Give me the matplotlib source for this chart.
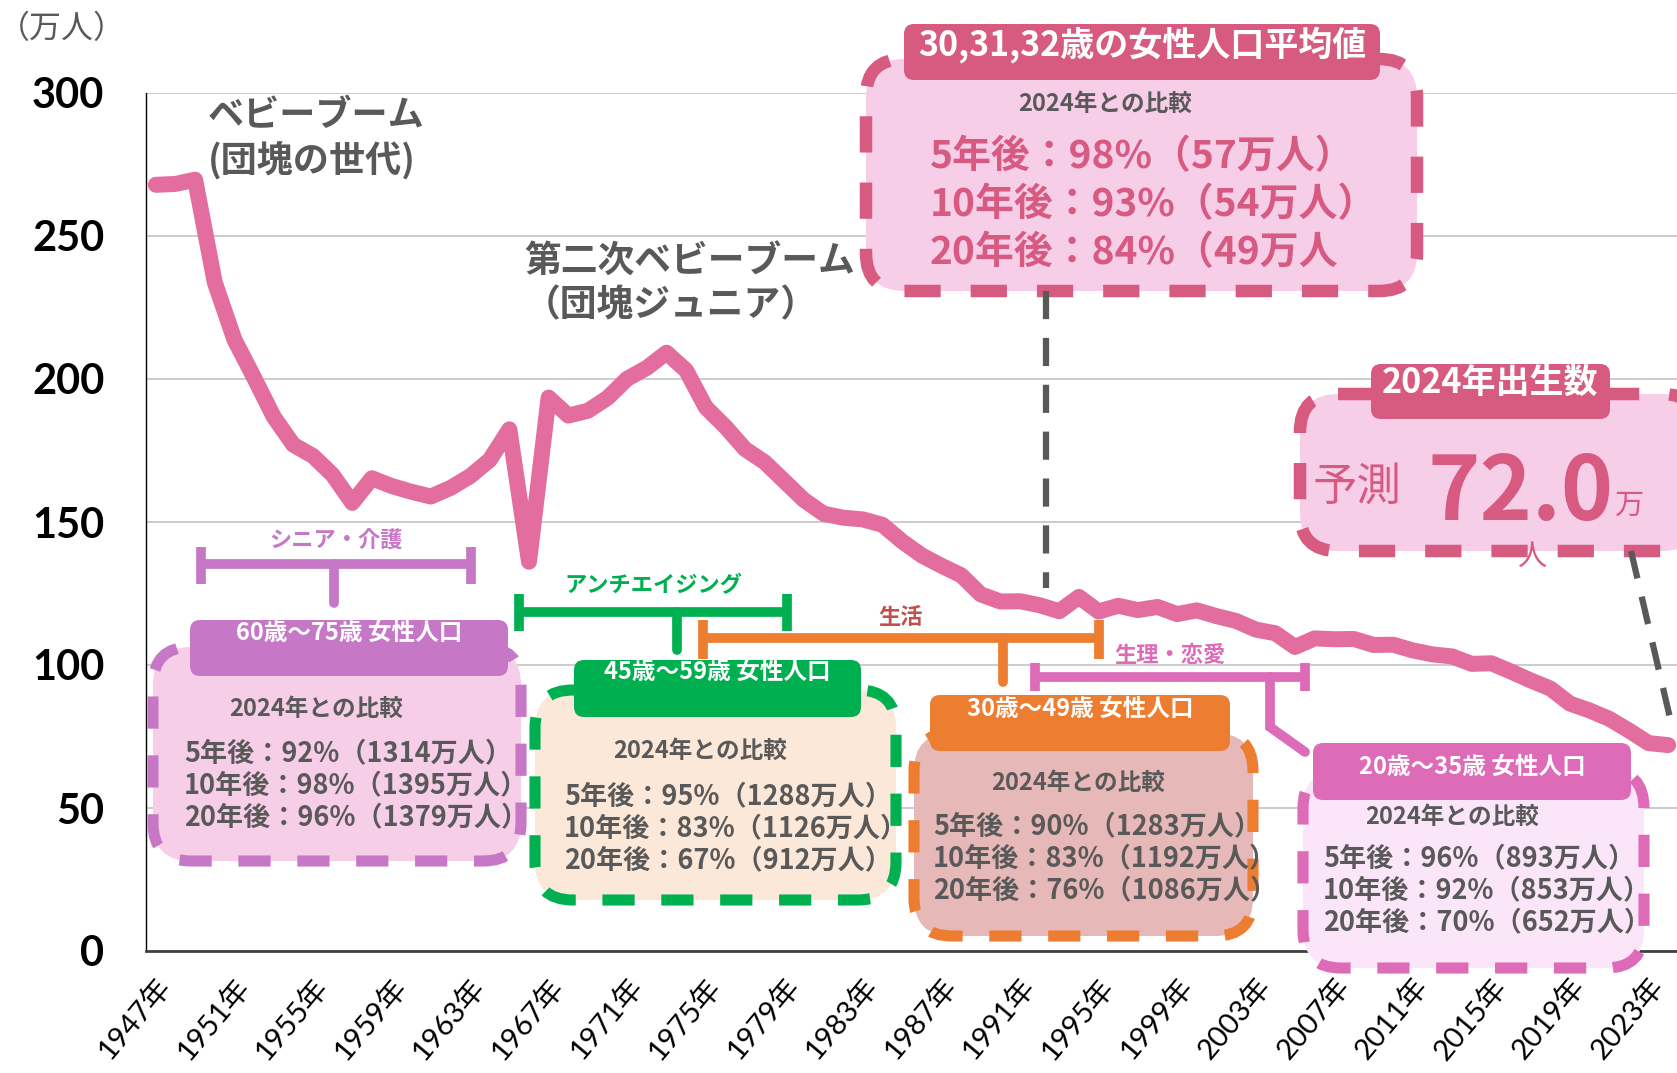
import matplotlib.pyplot as plt
from matplotlib.patches import FancyBboxPatch

plt.rcParams['font.family'] = ['Noto Sans CJK JP', 'DejaVu Sans']

# births per year (万人), 2024 is the forecast
years = list(range(1947, 2025))
births = [267.9, 268.2, 269.7, 233.8, 213.8, 200.5, 186.8, 177.0, 173.1, 166.5,
          156.7, 165.3, 162.6, 160.6, 158.9, 161.9, 166.0, 171.7, 182.4, 136.1,
          193.5, 187.2, 188.9, 193.4, 200.1, 203.9, 209.2, 203.0, 190.1, 183.3,
          175.5, 170.9, 164.3, 157.7, 152.9, 151.5, 150.9, 149.0, 143.2, 138.3,
          134.7, 131.4, 124.7, 122.2, 122.3, 120.9, 118.8, 123.8, 118.7, 120.7,
          119.2, 120.3, 117.8, 119.1, 117.1, 115.4, 112.4, 111.1, 106.3, 109.3,
          109.0, 109.1, 107.0, 107.1, 105.1, 103.7, 103.0, 100.4, 100.6, 97.7,
          94.6, 91.8, 86.5, 84.1, 81.2, 77.1, 72.7, 72.0]
tick_years = years[::4]
tick_labels = [f"{y}年" for y in tick_years]
y_ticks = [0, 50, 100, 150, 200, 250, 300]

group_labels = ["シニア・介護", "アンチエイジング", "生活", "生理・恋愛"]
group_titles = ["60歳～75歳 女性人口", "45歳～59歳 女性人口",
                "30歳～49歳 女性人口", "20歳～35歳 女性人口"]
group_lines = [
    ["5年後：92%（1314万人）", "10年後：98%（1395万人）", "20年後：96%（1379万人）"],
    ["5年後：95%（1288万人）", "10年後：83%（1126万人）", "20年後：67%（912万人）"],
    ["5年後：90%（1283万人）", "10年後：83%（1192万人）", "20年後：76%（1086万人）"],
    ["5年後：96%（893万人）", "10年後：92%（853万人）", "20年後：70%（652万人）"],
]
top_title = "30,31,32歳の女性人口平均値"
top_lines = ["5年後：98%（57万人）", "10年後：93%（54万人）", "20年後：84%（49万人"]
forecast = "72.0"

GRAY = '#595959'
PINK = '#D75A81'
LINE = '#E26D9E'

W, H = 1677, 1073
fig = plt.figure(figsize=(W / 100, H / 100), dpi=100)
ax = fig.add_axes([146 / W, 122 / H, 1 - 146 / W, 858 / H])

ax.plot(years, births, color=LINE, lw=11.5, solid_joinstyle='round',
        solid_capstyle='round', zorder=3)
ax.set_xlim(1946.5, 2024.45)
ax.set_ylim(0, 300)
ax.set_yticks(y_ticks)
ax.set_yticklabels([str(v) for v in y_ticks], fontsize=30, fontweight='bold',
                   family=['Lato', 'DejaVu Sans'])
ax.set_xticks(tick_years)
ax.set_xticklabels(tick_labels, rotation=50, ha='right', va='top',
                   rotation_mode='anchor', fontsize=21,
                   family=['Lato', 'Noto Sans CJK JP'])
ax.tick_params(axis='y', length=0, pad=30)
ax.tick_params(axis='x', length=0, pad=16)
ax.grid(axis='y', color='#C8C8C8', lw=1.3)
ax.set_axisbelow(True)
for s in ['top', 'right']:
    ax.spines[s].set_visible(False)
ax.spines['left'].set_color('black')
ax.spines['left'].set_linewidth(1)
ax.spines['bottom'].set_color('#404040')
ax.spines['bottom'].set_linewidth(2)

# overlay in pixel coordinates for the callouts
ov = fig.add_axes([0, 0, 1, 1], zorder=10)
ov.set_xlim(0, W)
ov.set_ylim(H, 0)
ov.axis('off')


def dashed_box(x0, y0, x1, y1, face, edge, r=38, lw=8):
    ov.add_patch(FancyBboxPatch((x0, y0), x1 - x0, y1 - y0,
                                boxstyle=f"round,pad=0,rounding_size={r}",
                                fc=face, ec=edge, lw=lw, ls=(0, (2.9, 2.4))))


def header(x0, y0, x1, y1, color, text, ty, size=17):
    ov.add_patch(FancyBboxPatch((x0, y0), x1 - x0, y1 - y0,
                                boxstyle="round,pad=0,rounding_size=10",
                                fc=color, ec='none'))
    ov.text((x0 + x1) / 2, ty, text, color='white', fontsize=size,
            fontweight='bold', ha='center', va='center')


def bracket(x0, x1, y, c0, c1, color, label, ly):
    ov.plot([x0, x1], [y, y], color=color, lw=7, solid_capstyle='butt')
    ov.plot([x0, x0], [c0, c1], color=color, lw=7, solid_capstyle='butt')
    ov.plot([x1, x1], [c0, c1], color=color, lw=7, solid_capstyle='butt')
    ov.text((x0 + x1) / 2, ly, label, color=color if color != '#ED7D31' else '#C0504D',
            fontsize=16, fontweight='bold', ha='center', va='center')


def body_text(cx, y_cmp, x_left, ys, lines):
    ov.text(cx, y_cmp, "2024年との比較", color=GRAY, fontsize=17,
            fontweight='bold', ha='center', va='center')
    for yy, t in zip(ys, lines):
        ov.text(x_left, yy, t, color=GRAY, fontsize=19.5, fontweight='bold',
                ha='left', va='center')


# group boxes: (bracket x0, x1, y, cap0, cap1, label y), stem, header, body, text
specs = [
    dict(col='#C678C6', face='#F7CEE8', br=(201, 471, 564, 547, 584, 541),
         stem=[(334, 564), (334, 603)], hd=(190, 620, 508, 676, 633),
         bd=(153, 647, 521, 861), tx=(316, 709, 184, (753, 785, 817))),
    dict(col='#00B050', face='#FCE8D8', br=(519, 787, 612, 594, 631, 586),
         stem=[(677, 612), (677, 650)], hd=(574, 660, 861, 717, 672),
         bd=(535, 690, 896, 900), tx=(700, 751, 564, (796, 828, 860))),
    dict(col='#ED7D31', face='#E6B8B7', br=(703, 1099, 638, 620, 659, 617),
         stem=[(1003, 638), (1003, 682)], hd=(930, 695, 1230, 751, 709),
         bd=(914, 733, 1253, 936), tx=(1078, 783, 933, (826, 858, 890))),
    dict(col='#DE6BB7', face='#FBE6F9', br=(1035, 1305, 677, 663, 691, 655),
         stem=[(1270, 677), (1270, 727), (1305, 752)], hd=(1313, 743, 1631, 800, 767),
         bd=(1303, 770, 1644, 968), tx=(1452, 817, 1323, (858, 890, 922))),
]

for sp, lab, title, lines in zip(specs, group_labels, group_titles, group_lines):
    c = sp['col']
    x0, x1, y, c0, c1, ly = sp['br']
    bracket(x0, x1, y, c0, c1, c, lab, ly)
    sx, sy = zip(*sp['stem'])
    ov.plot(sx, sy, color=c, lw=7, solid_capstyle='round', solid_joinstyle='miter')
    b = sp['bd']
    dashed_box(b[0], b[1], b[2], b[3], sp['face'], c)
    h = sp['hd']
    header(h[0], h[1], h[2], h[3], c, title, h[4])
    t = sp['tx']
    body_text(t[0], t[1], t[2], t[3], lines)

# labels on the curve
ov.text(208, 116, "ベビーブーム", color=GRAY, fontsize=26, fontweight='bold',
        ha='left', va='center')
ov.text(208, 161, "(団塊の世代)", color=GRAY, fontsize=26, fontweight='bold',
        ha='left', va='center')
ov.text(524, 261, "第二次ベビーブーム", color=GRAY, fontsize=26.5, fontweight='bold',
        ha='left', va='center')
ov.text(524, 306, "（団塊ジュニア）", color=GRAY, fontsize=26.5, fontweight='bold',
        ha='left', va='center')
ov.text(-2, 29, "（万人）", color=GRAY, fontsize=23, ha='left', va='center')

# top callout
ov.plot([1046, 1046], [291, 588], color=GRAY, lw=4.5, ls=(0, (4.5, 3)))
dashed_box(866, 59, 1417, 291, '#F7CEE8', PINK, lw=9)
header(904, 24, 1380, 80, PINK, top_title, 45, size=24.5)
ov.text(1105, 104, "2024年との比較", color=GRAY, fontsize=17, fontweight='bold',
        ha='center', va='center')
for yy, t in zip((157, 205, 253), top_lines):
    ov.text(930, yy, t, color=PINK, fontsize=28, fontweight='bold',
            ha='left', va='center')

# 2024 forecast callout
px, py = ax.transData.transform((years[-1], births[-1]))
ov.plot([1631, px + 4], [551, H - py - 18], color=GRAY, lw=4.5, ls=(0, (4.5, 3)))
dashed_box(1300, 394, 1700, 551, '#F7CEE8', PINK, lw=9)
header(1371, 364, 1610, 419, PINK, "2024年出生数", 382, size=24.5)
ov.text(1313, 487, "予測", color=PINK, fontsize=32, ha='left', va='center')
ov.text(1428, 520, forecast, color=PINK, fontsize=64, fontweight='bold',
        ha='left', va='baseline')
ov.text(1614, 506, "万", color=PINK, fontsize=21, ha='left', va='center')
ov.text(1532, 557, "人", color=PINK, fontsize=21, ha='center', va='center')

fig.savefig('out.png', dpi=100)
